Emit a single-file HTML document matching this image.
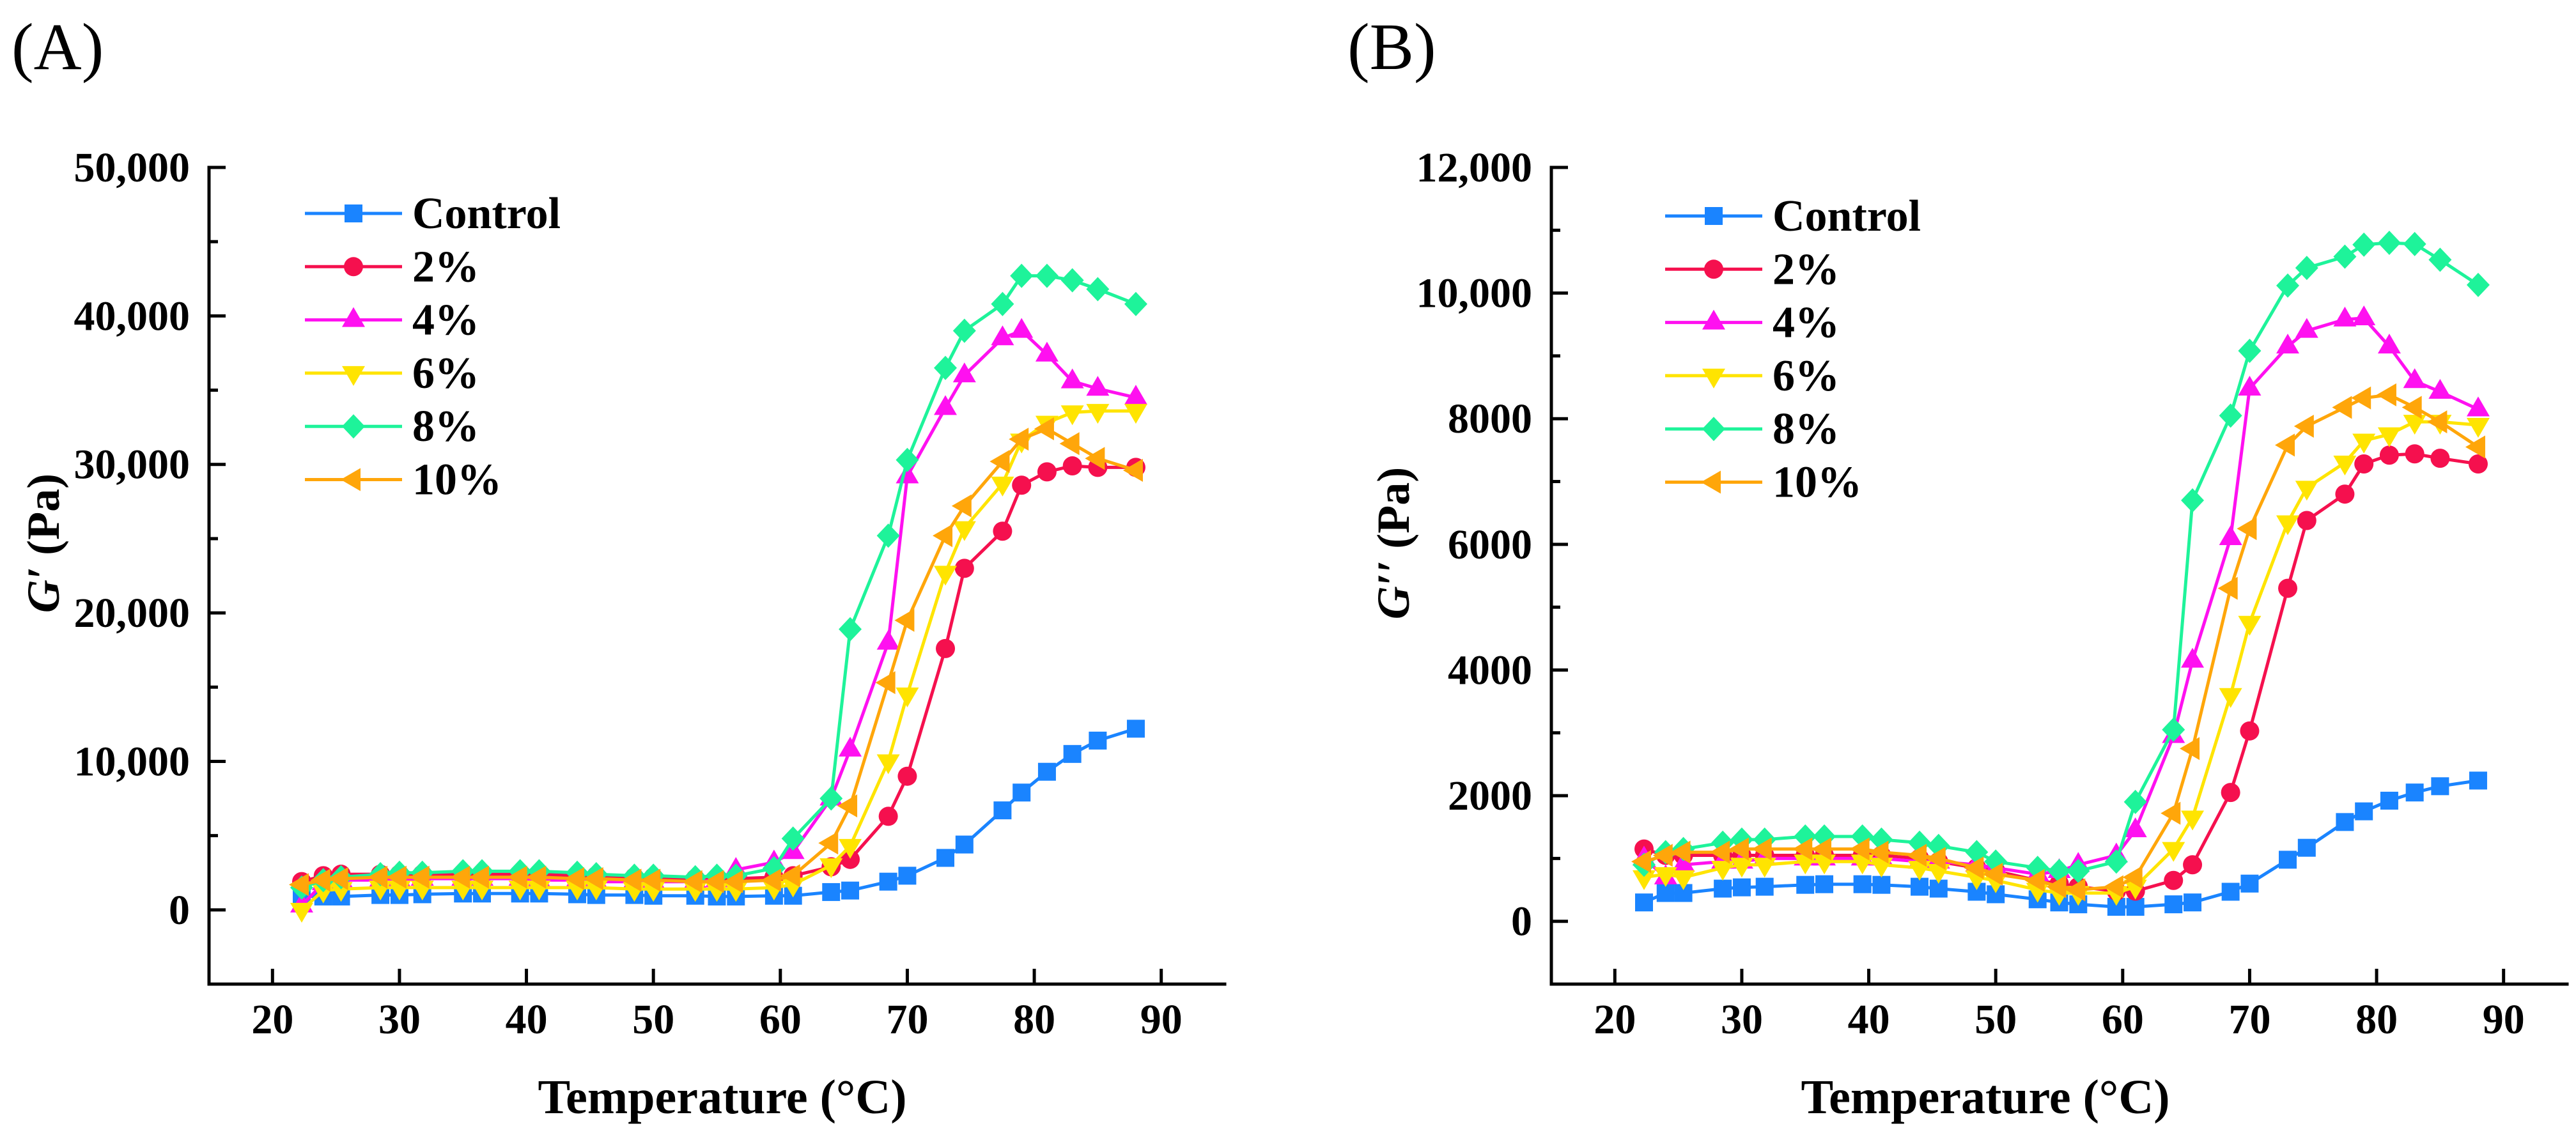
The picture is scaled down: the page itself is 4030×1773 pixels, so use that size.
<!DOCTYPE html>
<html><head><meta charset="utf-8">
<style>
html,body{margin:0;padding:0;background:#fff;}
svg{display:block;}
text{font-family:"Liberation Serif","Times New Roman",Times,serif;}
</style></head>
<body>
<svg id="fig" width="4030" height="1773" viewBox="0 0 4030 1773" xmlns="http://www.w3.org/2000/svg" font-family="Liberation Serif, serif"></svg>
<script>
const temps = [22.3,24,25.4,28.5,30,31.8,35,36.5,39.5,41,44,45.5,48.5,50,53.3,55,56.5,59.5,61,64,65.5,68.5,70,73,74.5,77.5,79,81,83,85,88];
const seriesNames = ["Control","2%","4%","6%","8%","10%"];
const seriesColors = ["#1a84ff","#f5104e","#ff10f0","#ffe400","#1ef39a","#ffa60a"];
const seriesMarkers = ["square","circle","triUp","triDown","diamond","triLeft"];

const gpControl = [900,900,900,1000,1000,1050,1100,1100,1100,1100,1050,1000,1000,950,950,900,900,950,950,1200,1300,1900,2300,3500,4400,6700,7900,9300,10500,11400,12200];
const gp2 = [1900,2300,2400,2400,2400,2400,2400,2400,2400,2400,2300,2300,2200,2200,2100,2100,2100,2200,2300,2900,3400,6300,9000,17600,23000,25500,28600,29500,29900,29800,29800];
const gp4 = [300,1800,2000,2000,2000,2100,2100,2100,2100,2000,2000,1900,1900,1900,1900,2000,2700,3200,3900,7500,10800,18000,29200,33800,36000,38500,39000,37400,35600,35100,34500];
const gp6 = [0,1300,1400,1500,1500,1500,1500,1500,1500,1500,1500,1500,1400,1400,1400,1400,1400,1500,1700,3000,4300,10000,14500,22700,25700,28700,31600,32800,33500,33600,33600];
const gp8 = [1500,2000,2200,2400,2500,2500,2600,2600,2600,2600,2500,2400,2300,2300,2200,2300,2300,2800,4800,7500,18900,25200,30300,36500,39000,40800,42700,42700,42400,41800,40800];
const gp10 = [1700,2000,2100,2200,2200,2200,2200,2200,2200,2200,2100,2100,2000,2000,1900,1900,1900,2000,2300,4500,7000,15300,19500,25200,27200,30200,31700,32400,31400,30400,29600];

const gppControl = [300,450,450,520,540,550,580,590,590,580,550,520,470,430,350,300,270,230,230,270,300,470,600,980,1170,1580,1750,1920,2050,2150,2240];
const gpp2 = [1150,1050,1050,1050,1050,1050,1050,1050,1050,1050,1000,950,850,800,650,600,550,480,480,650,900,2050,3030,5300,6380,6800,7280,7420,7440,7370,7280];
const gpp4 = [1000,700,900,950,950,1000,1000,1000,1000,1000,950,950,900,850,750,800,900,1050,1450,2950,4150,6100,8480,9150,9400,9580,9600,9150,8600,8430,8150];
const gpp6 = [700,750,700,850,900,900,950,950,950,900,850,800,700,650,500,450,450,450,550,1150,1650,3600,4750,6350,6900,7300,7650,7750,7950,7950,7900];
const gpp8 = [900,1100,1150,1250,1300,1300,1350,1350,1350,1300,1250,1200,1100,950,850,800,800,950,1900,3050,6700,8050,9080,10120,10400,10580,10770,10800,10780,10530,10130];
const gpp10 = [950,1050,1100,1100,1150,1150,1150,1150,1150,1100,1050,1000,850,750,650,550,500,550,700,1720,2750,5300,6250,7580,7880,8180,8330,8380,8180,7950,7550];

const xTicks = [20,30,40,50,60,70,80,90];
const yTicksA = [0,10000,20000,30000,40000,50000];
const yLabelsA = ["0","10,000","20,000","30,000","40,000","50,000"];
const yTicksB = [0,2000,4000,6000,8000,10000,12000];
const yLabelsB = ["0","2000","4000","6000","8000","10,000","12,000"];

const NS = "http://www.w3.org/2000/svg";
const FONT = "'Liberation Serif', 'Times New Roman', Times, serif";
const svg = document.getElementById("fig");
function mk(tag, attrs, parent){
  const e = document.createElementNS(NS, tag);
  for (const k in attrs) e.setAttribute(k, attrs[k]);
  if (tag === "text") e.setAttribute("font-family", FONT);
  (parent||svg).appendChild(e);
  return e;
}
function marker(g, type, cx, cy, color){
  let e;
  if (type==="square") e = mk("rect",{x:cx-14,y:cy-14,width:28,height:28,fill:color},g);
  else if (type==="circle") e = mk("circle",{cx:cx,cy:cy,r:15,fill:color},g);
  else if (type==="triUp") e = mk("polygon",{points:`${cx},${cy-20} ${cx+18},${cy+11} ${cx-18},${cy+11}`,fill:color},g);
  else if (type==="triDown") e = mk("polygon",{points:`${cx},${cy+20} ${cx+18},${cy-11} ${cx-18},${cy-11}`,fill:color},g);
  else if (type==="diamond") e = mk("polygon",{points:`${cx},${cy-19} ${cx+18},${cy} ${cx},${cy+19} ${cx-18},${cy}`,fill:color},g);
  else e = mk("polygon",{points:`${cx-20},${cy} ${cx+11},${cy-18} ${cx+11},${cy+18}`,fill:color},g);
  return e;
}

function panel(cfg){
  const g = mk("g",{});
  
  
  const L = cfg.left, R = cfg.left+1589, T = 262, B = 1540;
  const xs = v => L + (v-15)/(95-15)*(R-L);
  const ys = v => B - (v-cfg.ymin)/(cfg.ymax-cfg.ymin)*(B-T);

  const pl = mk("text",{x:cfg.labelX,y:108,"font-size":104},g);
  pl.textContent = cfg.label;
  
  

  cfg.series.forEach((vals,i)=>{
    const sg = mk("g",{},g);
    
    
    const pts = temps.map((t,j)=>xs(t).toFixed(1)+","+ys(vals[j]).toFixed(1)).join(" ");
    mk("polyline",{points:pts,fill:"none",stroke:seriesColors[i],"stroke-width":5,"stroke-linejoin":"round"},sg);
    temps.forEach((t,j)=>{
      const m = marker(sg, seriesMarkers[i], xs(t), ys(vals[j]), seriesColors[i]);
      
      
    });
  });

  const ax = mk("g",{stroke:"#000","stroke-width":5,fill:"none"},g);
  
  
  mk("path",{d:`M${L},${T} L${L},${B} L${R},${B}`,"stroke-linecap":"square"},ax);
  xTicks.forEach(v=>{
    mk("line",{x1:xs(v),y1:B,x2:xs(v),y2:B-24},ax);
    const t = mk("text",{x:xs(v),y:1617,"font-size":66,"font-weight":"bold","text-anchor":"middle",fill:"#000",stroke:"none"},g);
    t.textContent = v;
    
    
  });
  for (let v=cfg.ymin+cfg.minor; v<=cfg.ymax; v+=cfg.minor){
    const major = cfg.yTicks.indexOf(v)>=0;
    mk("line",{x1:L,y1:ys(v),x2:L+(major?26:14),y2:ys(v)},ax);
  }
  cfg.yTicks.forEach((v,k)=>{
    const t = mk("text",{x:L-30,y:ys(v)+22,"font-size":66,"font-weight":"bold","text-anchor":"end",fill:"#000"},g);
    t.textContent = cfg.yLabels[k];
    
    
  });

  const xt = mk("text",{x:cfg.xTitleX,y:1742,"font-size":76,"font-weight":"bold","text-anchor":"middle"},g);
  xt.textContent = "Temperature (°C)";
  
  
  const yt = mk("text",{x:0,y:0,"font-size":72,"font-weight":"bold","text-anchor":"middle",transform:`translate(${cfg.yTitleX},850) rotate(-90)`},g);
  const ti = mk("tspan",{"font-style":"italic"},yt); ti.textContent = cfg.gname;
  const tr = mk("tspan",{},yt); tr.textContent = " (Pa)";
  
  

  const lg = mk("g",{},g);
  
  
  seriesNames.forEach((n,i)=>{
    const y = cfg.legY + i*83.3;
    const eg = mk("g",{},lg);
    
    
    mk("line",{x1:cfg.legX,y1:y,x2:cfg.legX+152,y2:y,stroke:seriesColors[i],"stroke-width":5},eg);
    marker(eg, seriesMarkers[i], cfg.legX+76, y, seriesColors[i]);
    const t = mk("text",{x:cfg.legX+168,y:y+23,"font-size":70,"font-weight":"bold"},eg);
    t.textContent = n;
  });
}

panel({name:"panel-a-storage-modulus",left:327,ymin:-5000,ymax:50000,minor:5000,yTicks:yTicksA,yLabels:yLabelsA,
  series:[gpControl,gp2,gp4,gp6,gp8,gp10],label:"(A)",labelX:18,xTitleX:1130,yTitleX:92,gname:"G′",legX:477,legY:334});
panel({name:"panel-b-loss-modulus",left:2427,ymin:-1000,ymax:12000,minor:1000,yTicks:yTicksB,yLabels:yLabelsB,
  series:[gppControl,gpp2,gpp4,gpp6,gpp8,gpp10],label:"(B)",labelX:2108,xTitleX:3106,yTitleX:2204,gname:"G′′",legX:2605,legY:338});
</script>
</body></html>
